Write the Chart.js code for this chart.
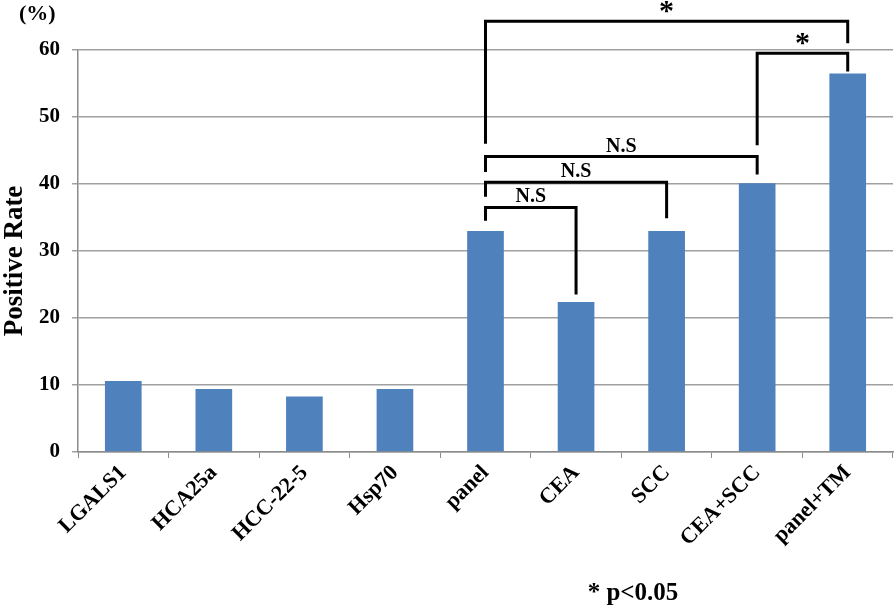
<!DOCTYPE html>
<html><head><meta charset="utf-8">
<script src="https://cdn.jsdelivr.net/npm/chart.js@4.4.1/dist/chart.umd.min.js"></script>
<style>html,body{margin:0;padding:0;background:#fff}#wrap{width:896px;height:608px;position:relative}</style>
</head><body><div id="wrap"><canvas id="c" width="896" height="608"></canvas></div>
<script>
const categories = ["LGALS1","HCA25a","HCC-22-5","Hsp70","panel","CEA","SCC","CEA+SCC","panel+TM"];
const positiveRate = [10.6, 9.4, 8.3, 9.4, 33.0, 22.4, 33.0, 40.1, 56.5];
const yTicks = [0, 10, 20, 30, 40, 50, 60];
// comparison brackets: [from index, to index, bar-top value, left-end value, right-end value, label]
const brackets = [
  [4, 5, 36.5, 34.5, 23.5, "N.S"],
  [4, 6, 40.25, 38.1, 34.9, "N.S"],
  [4, 7, 44.1, 41.8, 41.4, "N.S"],
  [7, 8, 59.5, 45.8, 56.8, "*"],
  [4, 8, 64.3, 46.0, 61.0, "*"]
];
const noteText = "* p<0.05";
const unitText = "(%)";
const yTitle = "Positive Rate";

const FONT = "'Liberation Serif','Times New Roman',serif";

const annot = {
  id: 'annot',
  afterDraw(chart) {
    const ctx = chart.ctx, xs = chart.scales.x, ys = chart.scales.y;
    ctx.save();
    ctx.strokeStyle = '#000'; ctx.lineWidth = 3; ctx.lineJoin = 'miter';
    ctx.fillStyle = '#000';
    brackets.forEach(b => {
      const x1 = xs.getPixelForValue(b[0]), x2 = xs.getPixelForValue(b[1]);
      const yt = ys.getPixelForValue(b[2]), yl = ys.getPixelForValue(b[3]), yr = ys.getPixelForValue(b[4]);
      ctx.beginPath(); ctx.moveTo(x1, yl); ctx.lineTo(x1, yt); ctx.lineTo(x2, yt); ctx.lineTo(x2, yr); ctx.stroke();
      ctx.textAlign = 'center'; ctx.textBaseline = 'alphabetic';
      if (b[5] === '*') { ctx.font = 'bold 30px ' + FONT; ctx.fillText('*', (x1 + x2) / 2, yt - 1); }
      else { ctx.font = 'bold 20px ' + FONT; ctx.fillText(b[5], (x1 + x2) / 2, yt - 5); }
    });
    ctx.font = 'bold 22px ' + FONT; ctx.textAlign = 'left'; ctx.textBaseline = 'middle';
    ctx.fillText(unitText, 19, 14);
    ctx.font = 'bold 25px ' + FONT; ctx.textAlign = 'center';
    ctx.fillText(noteText, 633, 594);
    ctx.translate(15, 261); ctx.rotate(-Math.PI / 2);
    ctx.font = 'bold 27px ' + FONT; ctx.textAlign = 'center'; ctx.textBaseline = 'middle';
    ctx.fillText(yTitle, 0, 0);
    ctx.restore();
  }
};

new Chart(document.getElementById('c'), {
  type: 'bar',
  data: { labels: categories, datasets: [{ data: positiveRate, backgroundColor: '#4F81BD', borderWidth: 0, categoryPercentage: 1, barPercentage: 0.405 }] },
  options: {
    responsive: false, animation: false,
    layout: { padding: { top: 50, right: 3, left: 0, bottom: 0 } },
    plugins: { legend: { display: false }, tooltip: { enabled: false } },
    scales: {
      x: {
        grid: { display: true, drawOnChartArea: false, drawTicks: true, tickLength: 6, color: '#8c8c8c', offset: true },
        border: { color: '#8c8c8c', width: 1.5 },
        ticks: { minRotation: 45, maxRotation: 45, padding: 2, color: '#000', font: { family: FONT, size: 22, weight: 'bold' } },
        afterFit(s) { s.height = 156; }
      },
      y: {
        min: 0, max: 60,
        afterBuildTicks(s) { s.ticks = yTicks.map(v => ({ value: v })); },
        grid: { color: '#a0a0a0', lineWidth: 1.5, tickLength: 6 },
        border: { color: '#8c8c8c', width: 1.5 },
        ticks: { padding: 12, color: '#000', font: { family: FONT, size: 21, weight: 'bold' } },
        afterFit(s) { s.width = 78; }
      }
    }
  },
  plugins: [annot]
});
</script></body></html>
